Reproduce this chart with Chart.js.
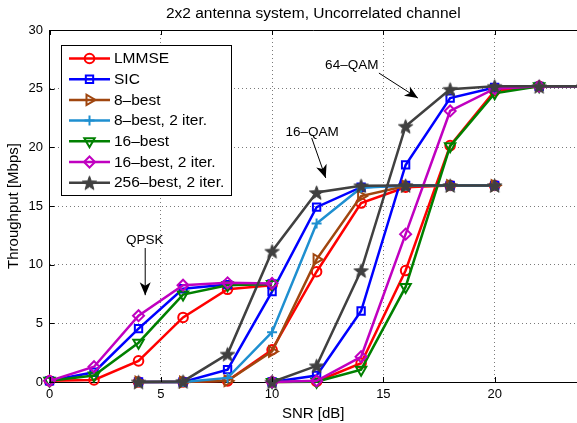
<!DOCTYPE html>
<html><head><meta charset="utf-8">
<script src="https://cdn.jsdelivr.net/npm/chart.js@4/dist/chart.umd.min.js"></script>
<style>html,body{margin:0;padding:0;overflow:hidden;background:#fff}canvas{display:block}</style>
</head><body>
<canvas id="c" width="577" height="423" style="width:577px;height:423px"></canvas>
<script>
// ---- data ----
const xTicks = [0, 5, 10, 15, 20];
const yTicks = [0, 5, 10, 15, 20, 25, 30];
const snrQPSK = [0, 2, 4, 6, 8, 10];
const snr16QAM = [4, 6, 8, 10, 12, 14, 16, 18, 20];
const snr64QAM = [10, 12, 14, 16, 18, 20, 22, 24];

const lmmseQPSK = [0.1, 0.17, 1.8, 5.5, 7.9, 8.25];
const sicQPSK = [0.1, 0.83, 4.55, 7.95, 8.3, 8.35];
const best16QPSK = [0.1, 0.55, 3.35, 7.45, 8.25, 8.35];
const best16iterQPSK = [0.1, 1.3, 5.65, 8.25, 8.45, 8.4];

const lmmse16QAM = [0, 0, 0.1, 2.75, 9.4, 15.25, 16.6, 16.75, 16.75];
const sic16QAM = [0, 0, 1.05, 7.7, 14.9, 16.6, 16.75, 16.75, 16.75];
const best8_16QAM = [0, 0, 0.1, 2.6, 10.45, 15.85, 16.7, 16.75, 16.75];
const best8iter16QAM = [0, 0, 0.35, 4.25, 13.5, 16.55, 16.75, 16.75, 16.75];
const best256iter16QAM = [0, 0.05, 2.38, 11.15, 16.15, 16.73, 16.75, 16.75, 16.75];

const lmmse64QAM = [0, 0.05, 1.6, 9.5, 20.15, 24.8, 25.2, 25.2];
const sic64QAM = [0, 0.55, 6.05, 18.5, 24.2, 25.1, 25.2, 25.2];
const best16_64QAM = [0, 0.02, 1.05, 8.1, 20.1, 24.6, 25.2, 25.2];
const best16iter64QAM = [0, 0.1, 2.15, 12.6, 23.1, 25.0, 25.2, 25.2];
const best256iter64QAM = [0, 1.38, 9.5, 21.8, 24.95, 25.2, 25.2, 25.2];

const labels = ['LMMSE', 'SIC', '8\u2013best', '8\u2013best, 2 iter.', '16\u2013best', '16\u2013best, 2 iter.', '256\u2013best, 2 iter.'];
const groups = [
  [[snrQPSK, lmmseQPSK], [snr16QAM, lmmse16QAM], [snr64QAM, lmmse64QAM]],
  [[snrQPSK, sicQPSK], [snr16QAM, sic16QAM], [snr64QAM, sic64QAM]],
  [[snr16QAM, best8_16QAM]],
  [[snr16QAM, best8iter16QAM]],
  [[snrQPSK, best16QPSK], [snr64QAM, best16_64QAM]],
  [[snrQPSK, best16iterQPSK], [snr64QAM, best16iter64QAM]],
  [[snr16QAM, best256iter16QAM], [snr64QAM, best256iter64QAM]]
];
const annotations = [
  {text: 'QPSK', tx: 4.28, ty: 12.1, from: [4.3, 11.42], to: [4.3, 7.4]},
  {text: '16\u2013QAM', tx: 11.8, ty: 21.3, from: [11.78, 20.8], to: [12.41, 17.39]},
  {text: '64\u2013QAM', tx: 13.58, ty: 27.0, from: [14.8, 26.33], to: [16.55, 24.2]}
];

// ---- styles ----
const FONT = "'Liberation Sans', Arial, Helvetica, sans-serif";
function makeStar(color, R) {
  const c = document.createElement('canvas');
  const s = Math.ceil(2 * R + 2);
  c.width = s; c.height = s;
  const g = c.getContext('2d');
  g.translate(s / 2, s / 2 + 0.8);
  g.beginPath();
  for (let k = 0; k < 10; k++) {
    const r = k % 2 ? R * 0.42 : R;
    const a = -Math.PI / 2 + k * Math.PI / 5;
    g.lineTo(r * Math.cos(a), r * Math.sin(a));
  }
  g.closePath();
  g.fillStyle = color; g.fill();
  g.strokeStyle = color; g.lineWidth = 1; g.stroke();
  return c;
}
const styles = [
  {color: '#ff0000', marker: 'circle', rot: 0, r: 4.8},
  {color: '#0000ff', marker: 'rect', rot: 0, r: 5.2},
  {color: '#a0460f', marker: 'triangle', rot: 90, r: 6},
  {color: '#1e8fd0', marker: 'cross', rot: 0, r: 5},
  {color: '#008000', marker: 'triangle', rot: 180, r: 6},
  {color: '#c000c0', marker: 'rectRot', rot: 0, r: 5.5},
  {color: '#404040', marker: makeStar('#404040', 7.5), rot: 0, r: 7}
];

function buildData(segs) {
  const out = [];
  segs.forEach((s, k) => {
    if (k > 0) out.push({x: s[0][0], y: null});
    s[0].forEach((x, i) => out.push({x: x, y: s[1][i]}));
  });
  return out;
}

const datasets = labels.map((lab, i) => ({
  label: lab,
  data: buildData(groups[i]),
  borderColor: styles[i].color,
  backgroundColor: styles[i].color,
  borderWidth: 2.5,
  pointStyle: styles[i].marker,
  pointRotation: styles[i].rot,
  pointRadius: styles[i].r,
  pointHoverRadius: styles[i].r,
  pointBorderWidth: 2,
  pointBorderColor: styles[i].color,
  pointBackgroundColor: 'rgba(0,0,0,0)',
  spanGaps: false,
  tension: 0,
  clip: false,
  order: labels.length - i
}));

function drawMarker(ctx, st, x, y) {
  ctx.save();
  ctx.strokeStyle = st.color; ctx.lineWidth = 2; ctx.fillStyle = 'rgba(0,0,0,0)';
  const m = st.marker, r = st.r;
  if (typeof m === 'object') { ctx.drawImage(m, x - m.width / 2, y - m.height / 2); ctx.restore(); return; }
  ctx.translate(x, y);
  ctx.rotate(st.rot * Math.PI / 180);
  ctx.beginPath();
  if (m === 'circle') ctx.arc(0, 0, r, 0, 2 * Math.PI);
  else if (m === 'rect') { const s = Math.SQRT1_2 * r; ctx.rect(-s, -s, 2 * s, 2 * s); }
  else if (m === 'rectRot') { ctx.moveTo(0, -r); ctx.lineTo(r, 0); ctx.lineTo(0, r); ctx.lineTo(-r, 0); ctx.closePath(); }
  else if (m === 'triangle') {
    for (let k = 0; k < 3; k++) { const a = -Math.PI / 2 + k * 2 * Math.PI / 3; ctx.lineTo(r * Math.cos(a), r * Math.sin(a)); }
    ctx.closePath();
  }
  else if (m === 'cross') { ctx.moveTo(-r, 0); ctx.lineTo(r, 0); ctx.moveTo(0, -r); ctx.lineTo(0, r); }
  ctx.stroke();
  ctx.restore();
}

function arrow(ctx, x1, y1, x2, y2) {
  ctx.save();
  ctx.strokeStyle = '#000'; ctx.fillStyle = '#000'; ctx.lineWidth = 1;
  ctx.beginPath(); ctx.moveTo(x1, y1); ctx.lineTo(x2, y2); ctx.stroke();
  const a = Math.atan2(y2 - y1, x2 - x1);
  const L = 13, W = 5.5;
  const dx = Math.cos(a), dy = Math.sin(a);
  const bx = x2 - L * dx, by = y2 - L * dy;
  const px = -dy, py = dx;
  ctx.beginPath();
  ctx.moveTo(x2, y2);
  ctx.lineTo(bx + W * px, by + W * py);
  ctx.lineTo(x2 - 0.72 * L * dx, y2 - 0.72 * L * dy);
  ctx.lineTo(bx - W * px, by - W * py);
  ctx.closePath();
  ctx.fill();
  ctx.restore();
}

const decor = {
  id: 'decor',
  afterDraw(chart) {
    const ctx = chart.ctx, ca = chart.chartArea;
    const xs = chart.scales.x, ys = chart.scales.y;
    ctx.save();
    // top border
    ctx.strokeStyle = '#000'; ctx.lineWidth = 1;
    ctx.beginPath(); ctx.moveTo(ca.left, ca.top + 0.5); ctx.lineTo(ca.right, ca.top + 0.5); ctx.stroke();
    // inward ticks
    ctx.beginPath();
    xTicks.forEach(v => {
      const px = Math.round(xs.getPixelForValue(v)) + 0.5;
      ctx.moveTo(px, ca.bottom); ctx.lineTo(px, ca.bottom - 5);
      ctx.moveTo(px, ca.top); ctx.lineTo(px, ca.top + 5);
    });
    yTicks.forEach(v => {
      const py = Math.round(ys.getPixelForValue(v)) + 0.5;
      ctx.moveTo(ca.left, py); ctx.lineTo(ca.left + 5, py);
    });
    ctx.stroke();
    // annotations
    ctx.fillStyle = '#000';
    ctx.font = '13.5px ' + FONT;
    ctx.textAlign = 'center'; ctx.textBaseline = 'middle';
    annotations.forEach(a => {
      ctx.fillText(a.text, xs.getPixelForValue(a.tx), ys.getPixelForValue(a.ty));
      arrow(ctx, xs.getPixelForValue(a.from[0]), ys.getPixelForValue(a.from[1]),
                 xs.getPixelForValue(a.to[0]), ys.getPixelForValue(a.to[1]));
    });
    // legend
    const lx = 61.5, ly = 45.5, lw = 170, lh = 150;
    ctx.fillStyle = '#fff';
    ctx.fillRect(lx, ly, lw, lh);
    ctx.strokeStyle = '#000'; ctx.lineWidth = 1;
    ctx.strokeRect(lx, ly, lw, lh);
    ctx.font = '15.5px ' + FONT;
    ctx.textAlign = 'left'; ctx.textBaseline = 'middle';
    labels.forEach((lab, i) => {
      const y = 58.5 + i * 20.7;
      const st = styles[i];
      ctx.strokeStyle = st.color; ctx.lineWidth = 2.5;
      ctx.beginPath(); ctx.moveTo(69, y); ctx.lineTo(110, y); ctx.stroke();
      drawMarker(ctx, st, 89.5, y);
      ctx.fillStyle = '#000';
      ctx.fillText(lab, 114, y + 0.5);
    });
    ctx.restore();
  }
};

new Chart(document.getElementById('c'), {
  type: 'line',
  data: {datasets: datasets},
  plugins: [decor],
  options: {
    responsive: false,
    animation: false,
    events: [],
    layout: {padding: 0, autoPadding: false},
    plugins: {
      legend: {display: false},
      tooltip: {enabled: false},
      title: {
        display: true, fullSize: false,
        text: '2x2 antenna system, Uncorrelated channel',
        color: '#000',
        font: {family: FONT, size: 15.5, weight: 'normal', lineHeight: 1.2},
        padding: {top: 4.5, bottom: 6.9}
      }
    },
    scales: {
      x: {
        type: 'linear', min: 0, max: 23.7,
        afterFit: s => { s.height = 41; s.paddingLeft = 0; s.paddingRight = 0; },
        afterBuildTicks: s => { s.ticks = xTicks.map(v => ({value: v})); },
        grid: {color: '#7a7a7a', lineWidth: 1, drawTicks: false},
        border: {display: true, color: '#000', width: 1, dash: [1, 3]},
        ticks: {font: {family: FONT, size: 13}, color: '#000', padding: 5, maxRotation: 0, autoSkip: false},
        title: {display: true, text: 'SNR [dB]', color: '#000', font: {family: FONT, size: 15, lineHeight: 1.2}, padding: {top: 0, bottom: 0}}
      },
      y: {
        type: 'linear', min: 0, max: 30,
        afterFit: s => { s.width = 49.5; },
        afterBuildTicks: s => { s.ticks = yTicks.map(v => ({value: v})); },
        grid: {color: '#7a7a7a', lineWidth: 1, drawTicks: false},
        border: {display: true, color: '#000', width: 1, dash: [1, 3]},
        ticks: {font: {family: FONT, size: 13}, color: '#000', padding: 6.5, autoSkip: false},
        title: {display: true, text: 'Throughput [Mbps]', color: '#000', font: {family: FONT, size: 15, lineHeight: 1.2}, padding: {top: 5, bottom: 0}}
      }
    }
  }
});
</script>
</body></html>
